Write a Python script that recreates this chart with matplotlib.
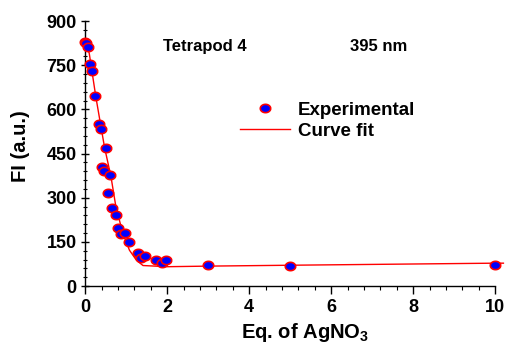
import numpy as np
import matplotlib
matplotlib.use("Agg")
import matplotlib.pyplot as plt
from matplotlib.ticker import MultipleLocator

plt.rcParams['font.family'] = ['Liberation Sans', 'DejaVu Sans']
plt.rcParams['font.weight'] = 'bold'
plt.rcParams['mathtext.fontset'] = 'custom'
plt.rcParams['mathtext.rm'] = 'Liberation Sans:bold'
plt.rcParams['mathtext.default'] = 'rm'

# experimental points (equivalents of AgNO3, FI)
eq_exp = [0.0, 0.02, 0.08, 0.11, 0.16, 0.25, 0.33, 0.38, 0.52, 0.41, 0.45,
          0.61, 0.56, 0.65, 0.75, 0.79, 0.88, 0.98, 1.06, 1.29, 1.37, 1.47,
          1.72, 1.88, 1.98, 3.0, 5.0, 10.0]
fi_exp = [830, 824, 813, 756, 731, 646, 549, 533, 469, 405, 391,
          379, 315, 264, 241, 199, 176, 181, 150, 111, 97, 102,
          88, 77, 88, 71, 68, 71]

# fitted curve
eq_fit = [0.0, 0.1, 0.26, 0.47, 0.63, 0.75, 0.92, 1.08, 1.25, 1.41, 2.0,
          3.0, 5.0, 10.0, 10.2]
fi_fit = [835, 790, 643, 473, 371, 269, 179, 122, 88, 70, 66,
          68, 71, 78, 78]

# slightly flattened ellipse marker
t = np.linspace(0, 2 * np.pi, 40)
ell = list(zip(1.25 * np.cos(t), np.sin(t)))

fig = plt.figure(figsize=(5.1, 3.46), dpi=100)
ax = fig.add_axes([0.167, 0.173, 0.804, 0.766])

ax.plot(eq_fit, fi_fit, color='red', lw=1.0, clip_on=False, zorder=2,
        label='Curve fit')
ax.plot(eq_exp, fi_exp, ls='none', marker=ell, ms=7.5, mfc='blue',
        mec='red', mew=1.2, clip_on=False, zorder=3, label='Experimental')

ax.set_xlim(0, 10)
ax.set_ylim(0, 900)
ax.xaxis.set_major_locator(MultipleLocator(2))
ax.xaxis.set_minor_locator(MultipleLocator(0.4))
ax.yaxis.set_major_locator(MultipleLocator(150))
ax.yaxis.set_minor_locator(MultipleLocator(30))
for s in ['top', 'right']:
    ax.spines[s].set_visible(False)
for s in ['left', 'bottom']:
    ax.spines[s].set_linewidth(1.0)
ax.tick_params(which='major', length=6, width=1.0, labelsize=13, pad=3)
ax.tick_params(which='minor', length=3, width=0.8)
ax.tick_params(axis='y', which='both', direction='inout')

ax.set_xlabel('Eq. of AgNO$_3$', fontsize=14.5, fontweight='bold', labelpad=4)
ax.xaxis.label.set_x(0.535)
ax.set_ylabel('FI (a.u.)', fontsize=14.5, fontweight='bold')
ax.yaxis.set_label_coords(-0.135, 0.53)

ax.text(1.9, 815, 'Tetrapod 4', fontsize=12, fontweight='bold',
        va='center', ha='left')
ax.text(6.45, 815, '395 nm', fontsize=12, fontweight='bold',
        va='center', ha='left')

h, l = ax.get_legend_handles_labels()
ax.legend(h[::-1], l[::-1], loc='upper left', bbox_to_anchor=(0.345, 0.745),
          frameon=False, fontsize=13.5, handlelength=2.7, handletextpad=0.4,
          labelspacing=0.2, borderpad=0.2)

fig.savefig('out.png', dpi=100)
